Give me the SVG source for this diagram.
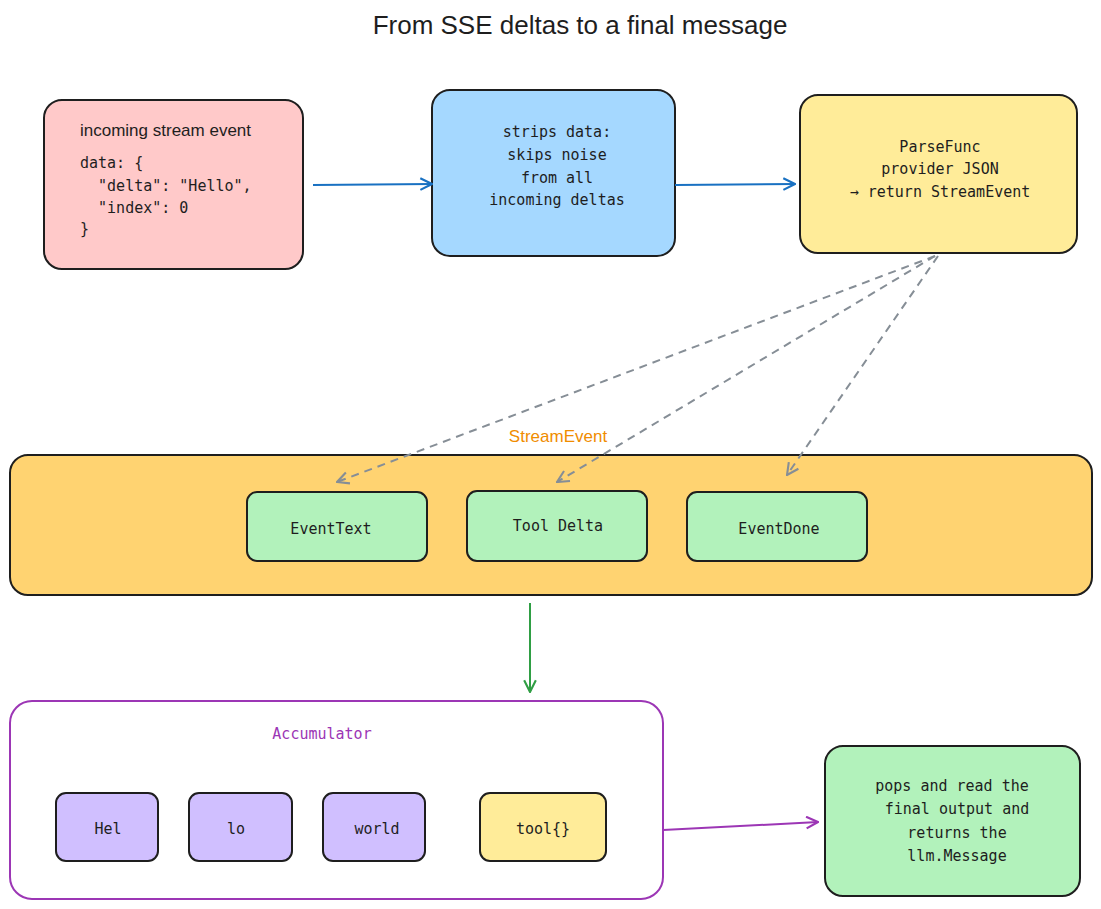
<svg xmlns="http://www.w3.org/2000/svg" width="1101" height="909" viewBox="0 0 1101 909">
<style>
.b{stroke:#1e1e1e;stroke-width:2}
.m{font-family:"DejaVu Sans Mono","Liberation Mono",monospace;font-size:15px;fill:#1e1e1e}
.c{text-anchor:middle}
.s{font-family:"Liberation Sans",Arial,sans-serif;fill:#1e1e1e}
</style>
<defs>
<marker id="ab" viewBox="0 0 12 12" refX="11" refY="6" markerWidth="14" markerHeight="14" orient="auto" markerUnits="userSpaceOnUse"><path d="M1 1L11 6L1 11" fill="none" stroke="#1971c2" stroke-width="1.8"/></marker>
<marker id="ag" viewBox="0 0 12 12" refX="11" refY="6" markerWidth="14" markerHeight="14" orient="auto" markerUnits="userSpaceOnUse"><path d="M1 1L11 6L1 11" fill="none" stroke="#868e96" stroke-width="1.8"/></marker>
<marker id="agr" viewBox="0 0 12 12" refX="11" refY="6" markerWidth="14" markerHeight="14" orient="auto" markerUnits="userSpaceOnUse"><path d="M1 1L11 6L1 11" fill="none" stroke="#2f9e44" stroke-width="1.8"/></marker>
<marker id="ap" viewBox="0 0 12 12" refX="11" refY="6" markerWidth="14" markerHeight="14" orient="auto" markerUnits="userSpaceOnUse"><path d="M1 1L11 6L1 11" fill="none" stroke="#9c36b5" stroke-width="1.8"/></marker>
</defs>
<rect width="1101" height="909" fill="#fff"/>
<text class="s c" x="580" y="34" font-size="26">From SSE deltas to a final message</text>
<g id="incoming"><rect class="b" x="44" y="100" width="259" height="169" rx="18" fill="#ffc9c9"/>
<text class="s" x="80" y="136" font-size="17">incoming stream event</text>
<text class="m" font-size="14" x="80" y="168">data: {</text>
<text class="m" font-size="14" x="80" y="191" xml:space="preserve">  "delta": "Hello",</text>
<text class="m" font-size="14" x="80" y="213" xml:space="preserve">  "index": 0</text>
<text class="m" font-size="14" x="80" y="234">}</text></g>
<g id="strip"><rect class="b" x="432" y="90" width="243" height="166" rx="18" fill="#a5d8ff"/>
<text class="m c" x="557" y="137">strips data:</text><text class="m c" x="557" y="160">skips noise</text><text class="m c" x="557" y="183">from all</text><text class="m c" x="557" y="205">incoming deltas</text></g>
<g id="parse"><rect class="b" x="800" y="95" width="277" height="158" rx="18" fill="#ffec99"/>
<text class="m c" x="940" y="152">ParseFunc</text><text class="m c" x="940" y="174">provider JSON</text><text class="m c" x="940" y="197">→ return StreamEvent</text></g>
<g id="streamevent"><rect class="b" x="10" y="455" width="1082" height="140" rx="18" fill="#ffd371"/>
<text class="s c" x="558" y="442" font-size="17" fill="#f08c00" style="fill:#f08c00">StreamEvent</text></g>
<g id="eventtext"><rect class="b" x="247" y="492" width="180" height="69" rx="10" fill="#b2f2bb"/><text class="m c" font-size="14" x="331" y="534">EventText</text></g>
<g id="tooldelta"><rect class="b" x="467" y="491" width="180" height="70" rx="10" fill="#b2f2bb"/><text class="m c" font-size="14" x="558" y="531">Tool Delta</text></g>
<g id="eventdone"><rect class="b" x="687" y="492" width="180" height="69" rx="10" fill="#b2f2bb"/><text class="m c" font-size="14" x="779" y="534">EventDone</text></g>
<g id="accumulator"><rect x="10" y="701" width="653" height="198" rx="22" fill="#fff" stroke="#9c36b5" stroke-width="2"/>
<text class="m c" x="322" y="739" font-size="18" style="fill:#9c36b5">Accumulator</text></g>
<g id="hel"><rect class="b" x="56" y="793" width="102" height="68" rx="10" fill="#d0bfff"/><text class="m c" font-size="18" x="108" y="834">Hel</text></g>
<g id="lo"><rect class="b" x="189" y="793" width="103" height="68" rx="10" fill="#d0bfff"/><text class="m c" font-size="18" x="236" y="834">lo</text></g>
<g id="world"><rect class="b" x="323" y="793" width="102" height="68" rx="10" fill="#d0bfff"/><text class="m c" font-size="18" x="377" y="834">world</text></g>
<g id="tool"><rect class="b" x="480" y="793" width="126" height="68" rx="10" fill="#ffec99"/><text class="m c" font-size="18" x="543" y="834">tool{}</text></g>
<g id="final"><rect class="b" x="825" y="746" width="255" height="150" rx="18" fill="#b2f2bb"/>
<text class="m c" x="952" y="791">pops and read the</text><text class="m c" x="957" y="814">final output and</text><text class="m c" x="957" y="838">returns the</text><text class="m c" x="957" y="861">llm.Message</text></g>
<g id="connectors" fill="none" stroke-width="2">
<path d="M313 185L432 184" stroke="#1971c2" marker-end="url(#ab)"/>
<path d="M675 185L795 184" stroke="#1971c2" marker-end="url(#ab)"/>
<path d="M935 256L337 482" stroke="#868e96" stroke-dasharray="8 6" marker-end="url(#ag)"/>
<path d="M935 256L557 482" stroke="#868e96" stroke-dasharray="8 6" marker-end="url(#ag)"/>
<path d="M938 256L787 475" stroke="#868e96" stroke-dasharray="8 6" marker-end="url(#ag)"/>
<path d="M530 603L530 692" stroke="#2f9e44" marker-end="url(#agr)"/>
<path d="M663 830L818 822" stroke="#9c36b5" marker-end="url(#ap)"/>
</g>
</svg>
